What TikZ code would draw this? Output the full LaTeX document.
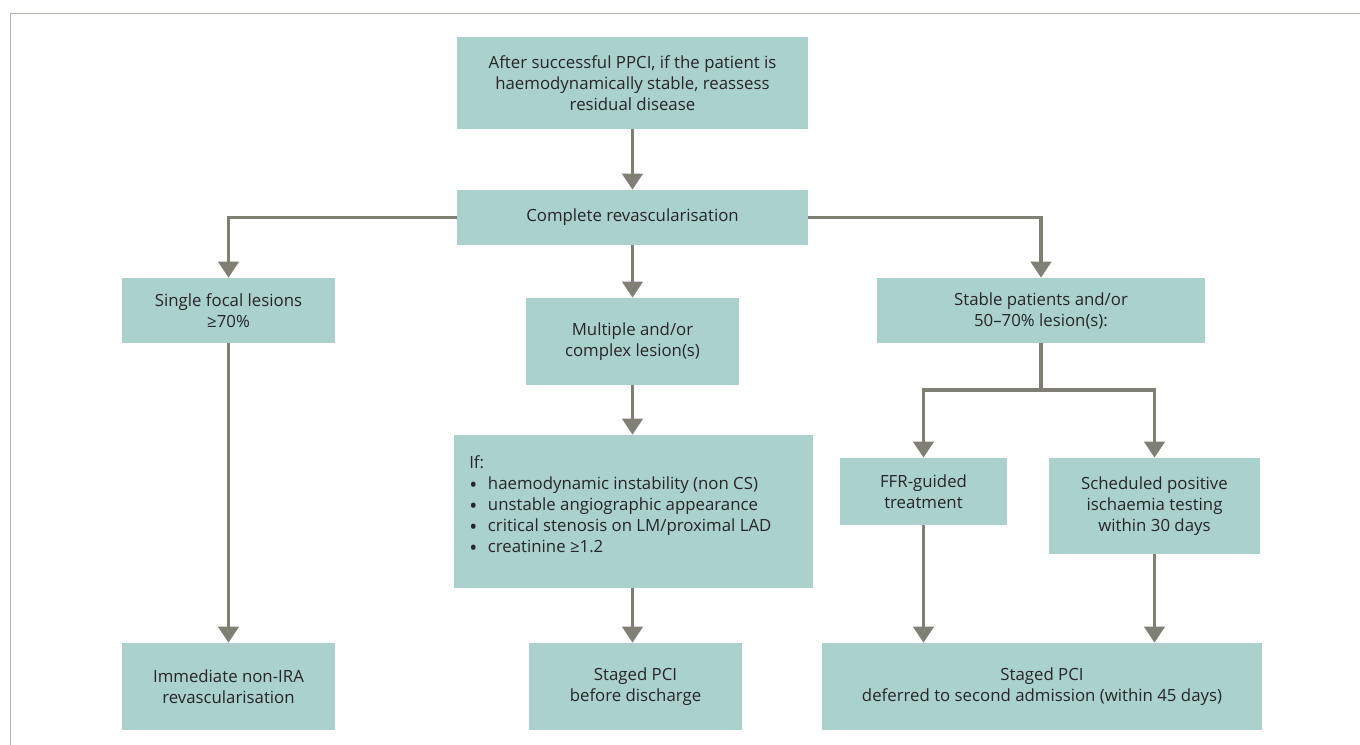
\documentclass[tikz,border=0pt]{standalone}
\usepackage{fontspec}
\setmainfont{Open Sans}
\usetikzlibrary{arrows.meta}
\definecolor{boxfill}{RGB}{170,209,204}
\definecolor{arrowgray}{RGB}{127,127,117}
\definecolor{framegray}{RGB}{180,180,168}
\definecolor{textgray}{RGB}{38,38,38}
\newcommand{\itemdot}{\makebox[14pt][l]{\raisebox{-2.4pt}[0pt][0pt]{\fontsize{16}{0}\selectfont\textbullet}}}

\begin{document}
\begin{tikzpicture}[x=0.75pt,y=-0.75pt,
        box/.style={fill=boxfill,text=textgray,align=center,inner sep=0pt,font=\fontsize{12.6}{15.75}\selectfont},
        boxsize/.style 2 args={minimum width=#1*0.75pt,minimum height=#2*0.75pt},
        flow/.style={draw=arrowgray,line width=2.8pt,-{Triangle[width=15pt,length=12pt]}},
        link/.style={draw=arrowgray,line width=2.8pt}]
        \useasboundingbox (0,0) rectangle (1360,745);

        % Frame
        \draw[framegray,line width=1pt] (10.5,745) -- (10.5,13.5) -- (1360,13.5);

        % Top row
        \node[box,boxsize={351}{92}] (reassess) at (632.5,83) {After successful PPCI, if the patient is\\haemodynamically stable, reassess\\residual disease};
        \node[box,boxsize={351}{55}] (complete) at (632.5,217.5) {Complete revascularisation};

        % Three branches
        \node[box,boxsize={213}{65}] (single) at (228.5,310.5) {Single focal lesions\\≥70\%};
        \node[box,boxsize={213}{87}] (multiple) at (632.5,341.5) {Multiple and/or\\complex lesion(s)};
        \node[box,boxsize={328}{65}] (stable) at (1041,310.5) {Stable patients and/or\\50--70\% lesion(s):};

        % Conditions box
        \node[box,boxsize={359}{153}] (ifbox) at (633.5,511.5) {};
        \node[box,fill=none,align=left,anchor=north west] (iftext) at (469,455) {If:\\
            \itemdot haemodynamic instability (non CS)\\
            \itemdot unstable angiographic appearance\\
            \itemdot critical stenosis on LM/proximal LAD\\
            \itemdot creatinine ≥1.2};

        \node[box,boxsize={167}{67}] (ffr) at (923.5,491.5) {FFR-guided\\treatment};
        \node[box,boxsize={211}{96}] (sched) at (1154.5,506) {Scheduled positive\\ischaemia testing\\within 30 days};

        % Bottom row
        \node[box,boxsize={213}{87}] (immediate) at (228.5,686.5) {Immediate non-IRA\\revascularisation};
        \node[box,boxsize={213}{87}] (staged) at (635.5,686.5) {Staged PCI\\before discharge};
        \node[box,boxsize={440}{87}] (deferred) at (1042,686.5) {Staged PCI\\deferred to second admission (within 45 days)};

        \coordinate (split) at (1041,390);

        % Connectors
        \draw[flow] (reassess) -- (complete);
        \draw[flow] (complete.west) -| (single.north);
        \draw[flow] (complete.east) -| (stable.north);
        \draw[flow] (complete) -- (multiple);
        \draw[flow] (multiple.south -| complete) -- (ifbox.north -| complete);
        \draw[flow] (ifbox.south -| complete) -- (staged.north -| complete);
        \draw[flow] (single) -- (immediate);
        \draw[link] (stable.south -| split) -- (split);
        \draw[flow] (split) -| (ffr.north);
        \draw[flow] (split) -| (sched.north);
        \draw[flow] (ffr.south) -- (ffr.south |- deferred.north);
        \draw[flow] (sched.south) -- (sched.south |- deferred.north);
\end{tikzpicture}
\end{document}
